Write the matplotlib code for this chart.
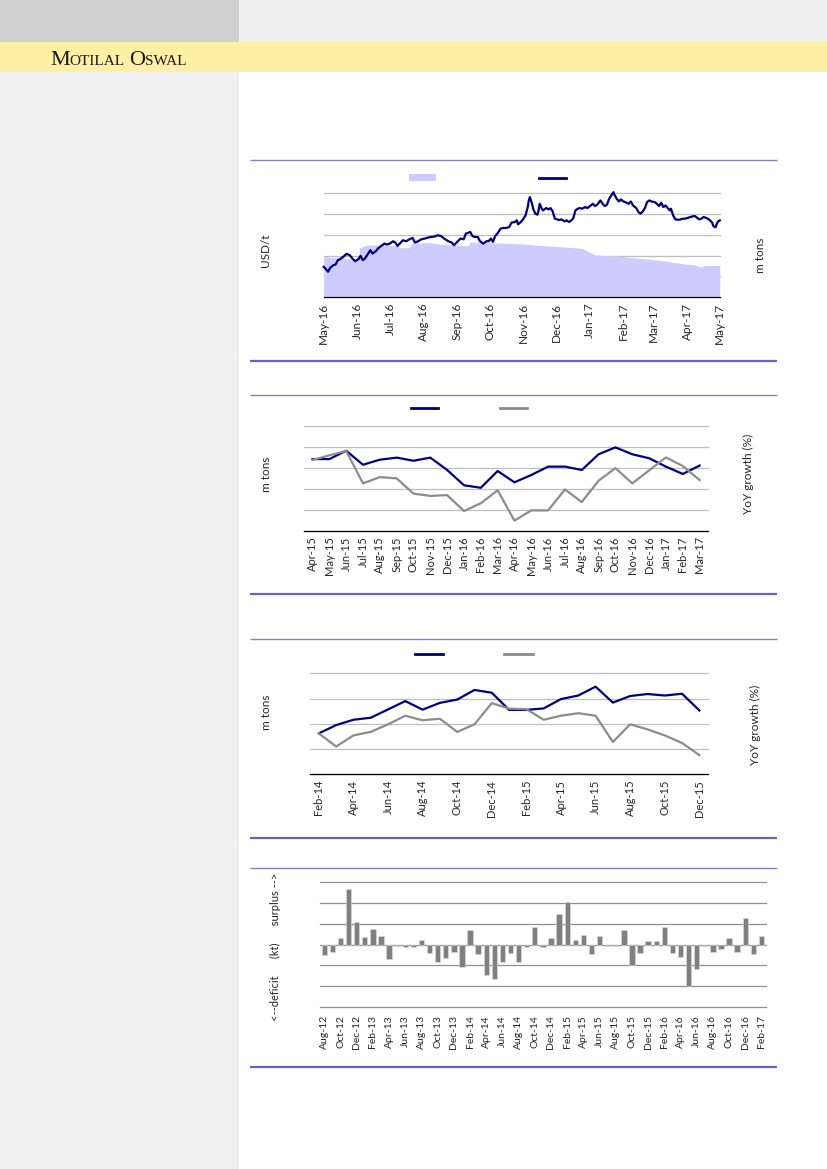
import numpy as np
import pandas as pd
import matplotlib
matplotlib.use('Agg')
import matplotlib.pyplot as plt
from matplotlib.patches import Rectangle
from matplotlib.lines import Line2D

W, H = 827, 1169

# chart 1 : price (USD/t, line) and exchange stocks (m tons, area), days from 1-May-16
price_day = [0, 2, 4, 6, 9, 11, 13, 15, 18, 21, 24, 27, 29, 32, 34, 36, 38, 41, 43, 45,
             48, 50, 53, 56, 58, 61, 64, 66, 68, 71, 73, 76, 79, 82, 84, 87, 90, 93, 96, 99,
             102, 105, 108, 111, 115, 118, 120, 123, 126, 129, 131, 135, 137, 139, 142, 144, 147, 150, 152, 154,
             156, 158, 160, 163, 165, 168, 171, 173, 176, 178,
             179, 181, 183, 186, 188, 189, 190, 192, 193, 195, 197, 198, 199, 201, 202, 205, 207, 209, 211, 213,
             215, 217, 219, 222, 224, 226, 229, 230, 232, 234, 236, 238, 241, 243, 246, 248, 250, 252, 255, 257,
             259, 261, 263, 265, 267, 268, 270, 272, 274, 276, 278, 281, 283, 285, 288, 290, 292, 294, 296, 298,
             300, 302, 305, 307, 309, 311, 313, 315, 317, 319, 320, 322, 324, 326, 328, 331, 333, 335, 338, 340,
             342, 344, 346, 348, 350, 352, 354, 356, 358, 359, 361, 363, 365]
price_usd = [1728, 1672, 1608, 1704, 1768, 1784, 1888, 1912, 1968, 2040, 2008, 1912, 1864, 1912, 1992, 1888, 1928, 2048, 2128, 2048,
             2104, 2168, 2232, 2288, 2264, 2288, 2344, 2312, 2232, 2312, 2368, 2344, 2392, 2424, 2312, 2344, 2392, 2408, 2432, 2448,
             2456, 2488, 2472, 2408, 2344, 2312, 2248, 2328, 2408, 2392, 2528, 2568, 2472, 2448, 2448, 2344, 2288, 2344, 2344, 2408,
             2328, 2472, 2528, 2648, 2664, 2664, 2688, 2792, 2808, 2848,
             2752, 2792, 2848, 2968, 3168, 3328, 3408, 3248, 3128, 3008, 2984, 3088, 3248, 3128, 3088, 3144, 3112, 3144, 3064, 2888,
             2872, 2856, 2872, 2824, 2848, 2808, 2864, 2904, 3088, 3128, 3144, 3128, 3168, 3144, 3208, 3248, 3192, 3224, 3328, 3248,
             3192, 3224, 3368, 3448, 3528, 3464, 3368, 3304, 3352, 3304, 3288, 3248, 3304, 3208, 3144, 3048, 3008, 3064, 3144, 3288,
             3328, 3304, 3288, 3248, 3192, 3272, 3168, 3208, 3144, 3088, 3128, 2968, 2872, 2864, 2864, 2888, 2888, 2904, 2928, 2944,
             2952, 2912, 2872, 2888, 2928, 2912, 2888, 2848, 2792, 2712, 2680, 2810, 2848]
stock_day = [0, 13, 26, 32, 33, 40, 56, 68, 70, 79, 81, 96, 108, 130, 133, 135, 154, 178, 195, 207,
             222, 238, 244, 250, 265, 268, 272, 284, 299, 315, 330, 342, 348, 351, 365]
stock_mt = [0.389, 0.379, 0.366, 0.366, 0.476, 0.501, 0.501, 0.495, 0.476, 0.476, 0.517, 0.524, 0.510, 0.495, 0.495,
            0.530, 0.524, 0.514, 0.501, 0.492, 0.482, 0.469, 0.437, 0.405, 0.398, 0.402, 0.395, 0.379, 0.366, 0.347,
            0.321, 0.308, 0.289, 0.302, 0.305]

# chart 2 : monthly output (m tons) and YoY growth (%)
c2_months = pd.date_range('2015-04-01', '2017-03-01', freq='MS').strftime('%b-%y')
c2_mt = [1.142, 1.142, 1.182, 1.115, 1.139, 1.149, 1.134, 1.149, 1.090, 1.017, 1.005, 1.085,
         1.031, 1.066, 1.106, 1.106, 1.090, 1.165, 1.198, 1.165, 1.146, 1.106, 1.071, 1.111]
c2_yoy = [13.8, 16.0, 18.1, 2.6, 5.6, 5.0, -2.3, -3.4, -3.0, -10.6, -6.9, -0.7,
          -15.2, -10.3, -10.3, -0.3, -6.3, 3.9, 9.9, 2.6, 8.8, 15.0, 10.9, 4.2]

# chart 3 : monthly output (m tons) and YoY growth (%)
c3_months = pd.date_range('2014-02-01', '2015-12-01', freq='MS').strftime('%b-%y')
c3_mt = [0.962, 0.995, 1.016, 1.024, 1.057, 1.090, 1.056, 1.083, 1.096, 1.134, 1.123, 1.055,
         1.055, 1.061, 1.098, 1.112, 1.147, 1.084, 1.110, 1.118, 1.112, 1.119, 1.053]
c3_yoy = [-1.9, -4.5, -2.3, -1.6, -0.1, 1.6, 0.7, 1.0, -1.6, -0.1, 4.1, 3.0,
          2.9, 0.8, 1.6, 2.1, 1.6, -3.6, -0.1, -1.1, -2.3, -3.8, -6.2]

# chart 4 : market balance (kt)
c4_months = pd.date_range('2012-08-01', '2017-02-01', freq='MS').strftime('%b-%y')
c4_kt = [-25, -17, 15, 133, 55, 17, 38, 20, -36, -4, -6, -6, 12, -20, -43, -32, -18, -55, 34, -23,
         -73, -83, -43, -20, -41, -5, 41, -6, 15, 73, 103, 12, 23, -23, 20, -3, -3, 35, -49, -20,
         8, 8, 43, -20, -29, -99, -58, -3, -18, -10, 15, -18, 63, -23, 20]

NAVY = '#000080'
GREY = '#8c8c8c'
FONT = 'Lato'
TXT = '#262626'


def fx(x):
    return x / W


def fy(y):
    return 1 - y / H


def box(x0, y0, x1, y1):
    return [x0 / W, 1 - y1 / H, (x1 - x0) / W, (y1 - y0) / H]


def rect(x0, y0, x1, y1, c, z=-5):
    fig.add_artist(Rectangle((fx(x0), fy(y1)), (x1 - x0) / W, (y1 - y0) / H,
                             transform=fig.transFigure, color=c, lw=0, zorder=z))


def hline(x0, x1, y, c, lw):
    fig.add_artist(Line2D([fx(x0), fx(x1)], [fy(y), fy(y)], transform=fig.transFigure,
                          color=c, lw=lw, solid_capstyle='butt'))


def vlabel(x, y, s, size=8.5):
    fig.text(fx(x), fy(y), s, rotation=90, ha='center', va='center',
             fontsize=size, family=FONT, color=TXT)


def style(ax, size, bottom=True):
    for k in ['top', 'left', 'right']:
        ax.spines[k].set_visible(False)
    ax.spines['bottom'].set_visible(bottom)
    ax.spines['bottom'].set_color('#000000')
    ax.spines['bottom'].set_linewidth(0.9)
    ax.tick_params(axis='y', length=0, labelleft=False, labelright=False)
    ax.tick_params(axis='x', length=0, pad=4, labelsize=size, labelcolor=TXT, rotation=90)
    for t in ax.get_xticklabels():
        t.set_family(FONT)
    for g in ax.get_ygridlines():
        g.set_clip_on(False)
    ax.patch.set_visible(False)


fig = plt.figure(figsize=(8.27, 11.69), dpi=100)

# page furniture
rect(0, 0, 239, 42, '#d0d0d0')
rect(239, 0, W, 42, '#efefef')
rect(0, 42, W, 72, '#fff0a6')
rect(0, 72, 239, H, '#f0f0f0')

# logo in small caps
r = fig.canvas.get_renderer()
xpos = 50
for s, size, gap in [('M', 16, 0), ('OTILAL', 11, 4.5), ('O', 16, 0), ('SWAL', 11, 0)]:
    t = fig.text(fx(xpos), fy(65), s, fontsize=size, family='Liberation Serif',
                 color='#1a1a1a', va='baseline')
    xpos += t.get_window_extent(r).width + gap

# section rules
for top, bot in [(160, 360.5), (395, 594), (638.5, 838), (867.5, 1067)]:
    hline(250, 777, top, '#8580c8', 1.0)
    hline(250, 777, bot, '#6a60c8', 1.6)

# ---- chart 1
ax1 = fig.add_axes(box(323.7, 193.3, 719.8, 297))
start = pd.Timestamp('2016-05-01')
sd = [start + pd.Timedelta(days=d) for d in stock_day]
pdays = [start + pd.Timedelta(days=d) for d in price_day]
ax1.fill_between(sd, stock_mt, 0, color='#ccccff', lw=0, zorder=2)
ax1.set_ylim(0, 1.0)
ax1.set_yticks(np.arange(0, 1.01, 0.2))
ax1.grid(axis='y', color='#bfbfbf', lw=0.9)
ax1.set_axisbelow(True)
ticks = pd.date_range('2016-05-01', '2017-05-01', freq='MS')
ax1.set_xticks(ticks)
ax1.set_xticklabels(ticks.strftime('%b-%y'))
ax1.set_xlim(start, pd.Timestamp('2017-05-01'))
style(ax1, 8.5)
ax1b = ax1.twinx()
ax1b.plot(pdays, price_usd, color=NAVY, lw=1.6, clip_on=False)
ax1b.set_ylim(1000, 3500)
for k in ax1b.spines:
    ax1b.spines[k].set_visible(False)
ax1b.tick_params(length=0, labelright=False)
vlabel(266, 250, 'USD/t')
vlabel(761, 255, 'm tons')
fig.add_artist(Rectangle((fx(408.9), fy(180.8)), 27 / W, 6.5 / H, transform=fig.transFigure,
                         color='#ccccff', lw=0))
fig.add_artist(Line2D([fx(539), fx(566)], [fy(177.7)] * 2, transform=fig.transFigure, color=NAVY, lw=2))

# ---- chart 2
ax2 = fig.add_axes(box(304.1, 426, 708, 530.7))
x2 = np.arange(len(c2_months))
ax2.plot(x2, c2_mt, color=NAVY, lw=1.6, zorder=3)
ax2.set_ylim(0.8, 1.3)
ax2.set_yticks(np.arange(0.8, 1.31, 0.1))
ax2.grid(axis='y', color='#bfbfbf', lw=0.9)
ax2.set_axisbelow(True)
ax2.set_xticks(x2)
ax2.set_xticklabels(c2_months)
ax2.set_xlim(-0.5, len(c2_months) - 0.5)
style(ax2, 8)
ax2b = ax2.twinx()
ax2b.plot(x2, c2_yoy, color=GREY, lw=1.6)
ax2b.set_ylim(-20, 30)
for k in ax2b.spines:
    ax2b.spines[k].set_visible(False)
ax2b.tick_params(length=0, labelright=False)
vlabel(266, 474, 'm tons')
vlabel(748.6, 474, 'YoY growth (%)')
fig.add_artist(Line2D([fx(410.6), fx(437.6)], [fy(408)] * 2, transform=fig.transFigure, color=NAVY, lw=2))
fig.add_artist(Line2D([fx(500.1), fx(527.2)], [fy(408)] * 2, transform=fig.transFigure, color=GREY, lw=2))

# ---- chart 3
ax3 = fig.add_axes(box(310.2, 673.3, 708, 774.3))
x3 = np.arange(len(c3_months))
ax3.plot(x3, c3_mt, color=NAVY, lw=1.6, zorder=3)
ax3.set_ylim(0.8, 1.2)
ax3.set_yticks(np.arange(0.8, 1.21, 0.1))
ax3.grid(axis='y', color='#bfbfbf', lw=0.9)
ax3.set_axisbelow(True)
ax3.set_xticks(x3[::2])
ax3.set_xticklabels(c3_months[::2])
ax3.set_xlim(-0.5, len(c3_months) - 0.5)
style(ax3, 8)
ax3b = ax3.twinx()
ax3b.plot(x3, c3_yoy, color=GREY, lw=1.6)
ax3b.set_ylim(-10, 10)
for k in ax3b.spines:
    ax3b.spines[k].set_visible(False)
ax3b.tick_params(length=0, labelright=False)
vlabel(266, 712, 'm tons')
vlabel(755.3, 725, 'YoY growth (%)')
fig.add_artist(Line2D([fx(414.6), fx(442.7)], [fy(654)] * 2, transform=fig.transFigure, color=NAVY, lw=2))
fig.add_artist(Line2D([fx(504.2), fx(533.3)], [fy(654)] * 2, transform=fig.transFigure, color=GREY, lw=2))

# ---- chart 4
ax4 = fig.add_axes(box(320.3, 882.3, 765.5, 1006.7))
x4 = np.arange(len(c4_months))
ax4.bar(x4, c4_kt, width=0.66, color='#808080', edgecolor='#dcdcdc', lw=0.4, zorder=3)
ax4.set_ylim(-150, 150)
ax4.set_yticks(np.arange(-150, 151, 50))
ax4.grid(axis='y', color='#8f8f8f', lw=0.9)
ax4.set_axisbelow(True)
ax4.set_xticks(x4[::2])
ax4.set_xticklabels(c4_months[::2])
ax4.set_xlim(-0.5, len(c4_months) - 0.5)
style(ax4, 7.5, bottom=False)
ax4.tick_params(axis='x', pad=6)
vlabel(275.4, 947, '<--deficit      (kt)      surplus -->', size=8)

fig.savefig('out.png', dpi=100)
